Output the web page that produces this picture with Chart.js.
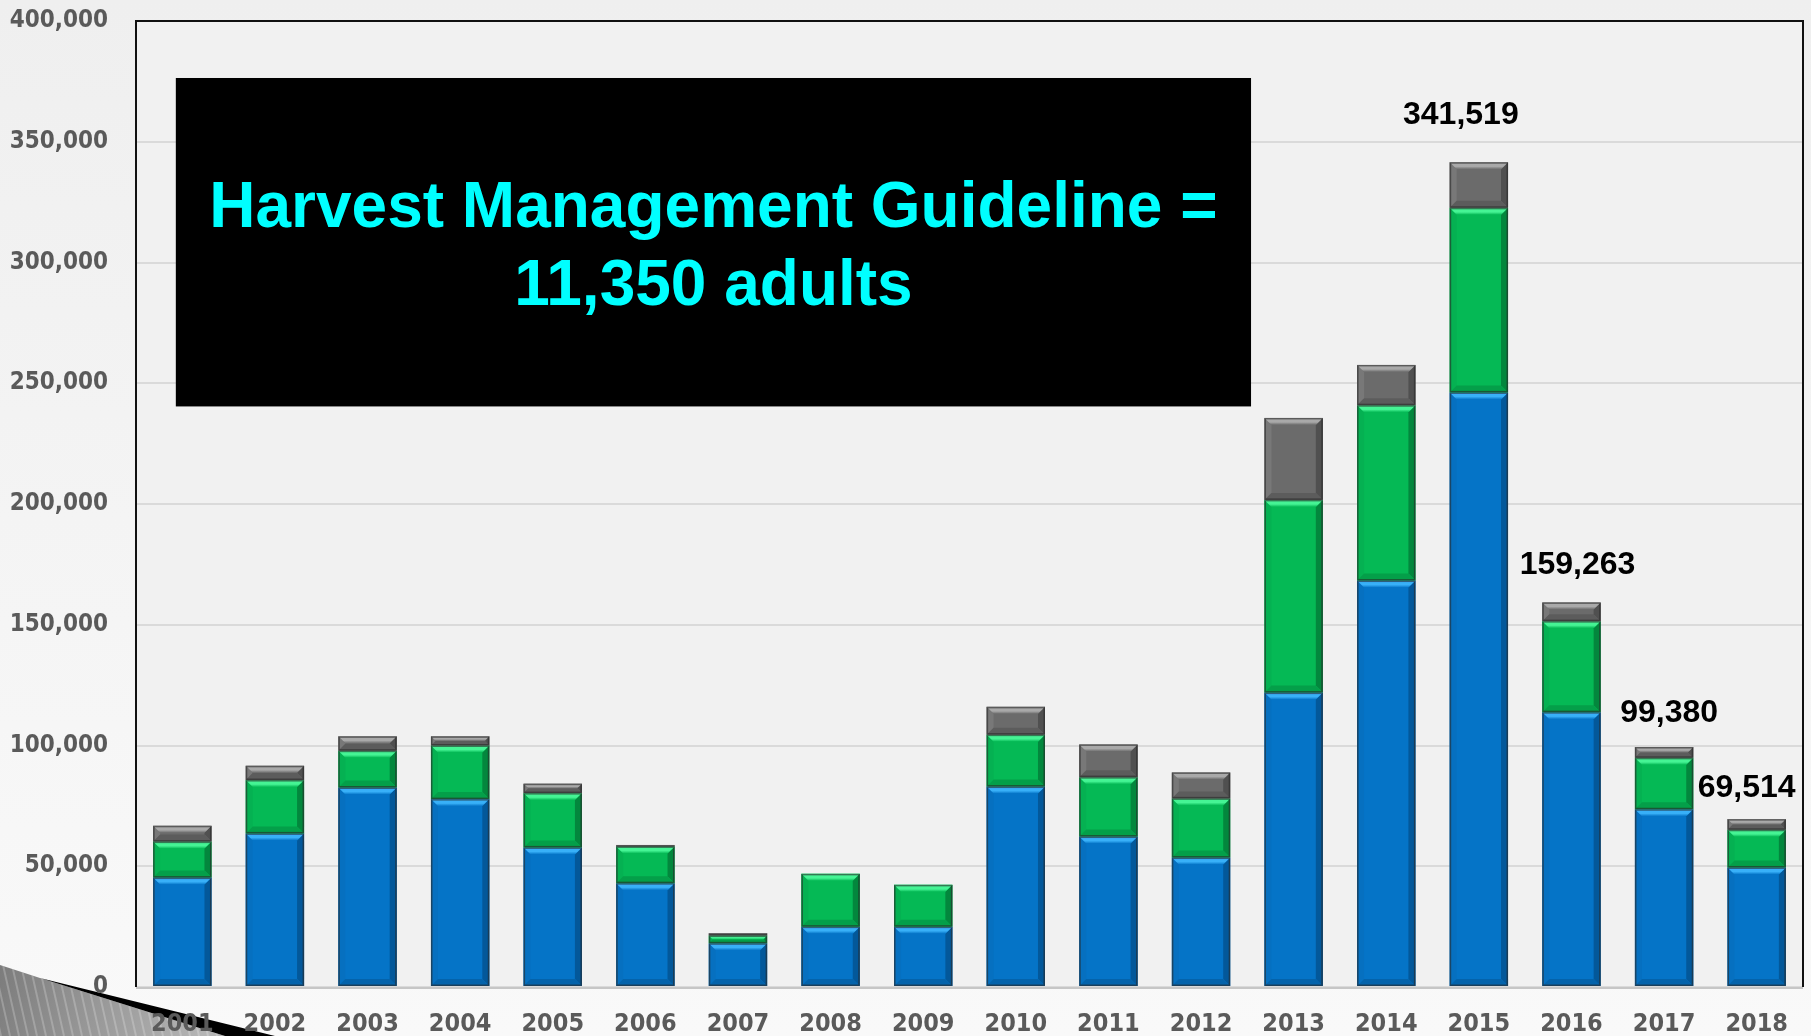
<!DOCTYPE html>
<html>
<head>
<meta charset="utf-8">
<script src="https://cdn.jsdelivr.net/npm/chart.js@4.4.1/dist/chart.umd.min.js"></script>
<style>
    html, body {
        margin: 0;
        padding: 0;
        width: 1811px;
        height: 1036px;
        overflow: hidden;
        background: linear-gradient(180deg, #efefef 0%, #f4f4f4 50%, #f9f9f9 100%);
    }
    #wrap {
        position: relative;
        width: 1811px;
        height: 1036px;
    }
</style>
</head>
<body>
<div id="wrap"><canvas id="harvest"></canvas></div>
<script>
// Years on the x axis
const years = ['2001', '2002', '2003', '2004', '2005', '2006', '2007', '2008', '2009',
    '2010', '2011', '2012', '2013', '2014', '2015', '2016', '2017', '2018'];

// Stacked series (bottom to top)
const blueValues = [45300, 63600, 82600, 77800, 57800, 43000, 18100, 25000, 25000,
    83000, 62300, 53600, 121900, 168300, 246200, 113800, 73600, 49500];
const greenValues = [14900, 22100, 15250, 22200, 22500, 15200, 3200, 21850, 17300,
    21500, 24600, 24500, 79800, 72600, 76450, 37700, 21300, 15600];
const grayValues = [6550, 5900, 5950, 3800, 3900, 500, 960, 0, 0,
    11500, 13550, 10750, 33950, 16700, 18869, 7763, 4480, 4414];

// Y axis ticks
const yTicks = [0, 50000, 100000, 150000, 200000, 250000, 300000, 350000, 400000];

// Years that get a total label
const labelledYears = ['2015', '2016', '2017', '2018'];

// Banner text
const bannerLines = ['Harvest Management Guideline =', '11,350 adults'];

// Label nudges in px (dx, dy from top of stack)
const labelNudge = [[-18, -47], [6, -37], [5, -34], [-10, -31]];

const palette = {
    blue:  { base: '#0574c7', top: '#38b0f8', right: '#03589a', bottom: '#0463ab', left: '#0670c0' },
    green: { base: '#05b955', top: '#45f494', right: '#03873d', bottom: '#049f49', left: '#05b152' },
    gray:  { base: '#6b6b6b', top: '#a9a9a9', right: '#505050', bottom: '#5c5c5c', left: '#787878' }
};
const shades = [palette.blue, palette.green, palette.gray];

const fmt = v => v.toLocaleString('en-US');

function poly(ctx, pts, fill) {
    ctx.beginPath();
    ctx.moveTo(pts[0][0], pts[0][1]);
    for (let i = 1; i < pts.length; i++) ctx.lineTo(pts[i][0], pts[i][1]);
    ctx.closePath();
    ctx.fillStyle = fill;
    ctx.fill();
}

// Corner decoration + plot background
const backdrop = {
    id: 'backdrop',
    beforeDraw(chart) {
        const ctx = chart.ctx;
        const H = chart.height;
        ctx.save();
        // striped grey wedge bottom-left
        const g = [[0, H - 71], [40, H - 58], [225, H], [0, H]];
        const grad = ctx.createLinearGradient(0, H - 70, 200, H);
        grad.addColorStop(0, '#7c7c7c');
        grad.addColorStop(1, '#b4b4b4');
        poly(ctx, g, grad);
        ctx.save();
        ctx.beginPath();
        ctx.moveTo(g[0][0], g[0][1]);
        g.slice(1).forEach(p => ctx.lineTo(p[0], p[1]));
        ctx.closePath();
        ctx.clip();
        ctx.strokeStyle = 'rgba(255,255,255,0.22)';
        ctx.lineWidth = 2;
        for (let sx = -80; sx < 260; sx += 9) {
            ctx.beginPath();
            ctx.moveTo(sx, H - 80);
            ctx.lineTo(sx + 18, H);
            ctx.stroke();
        }
        ctx.restore();
        poly(ctx, [[40, H - 58], [275, H], [225, H]], '#000');

        const a = chart.chartArea;
        ctx.fillStyle = '#f1f1f1';
        ctx.fillRect(a.left, a.top, a.right - a.left, a.bottom - a.top);
        ctx.restore();
    }
};

// Bevelled look on each stacked segment
const bevel = {
    id: 'bevel',
    afterDatasetsDraw(chart) {
        const ctx = chart.ctx;
        ctx.save();
        chart.data.datasets.forEach((ds, di) => {
            const c = shades[di];
            chart.getDatasetMeta(di).data.forEach(el => {
                const p = el.getProps(['x', 'y', 'base', 'width'], true);
                const l = p.x - p.width / 2, r = p.x + p.width / 2;
                const t = Math.min(p.y, p.base), bt = Math.max(p.y, p.base);
                const h = bt - t;
                if (h < 1) return;
                const b = Math.min(7, h / 2, p.width / 2);
                poly(ctx, [[l, t], [l + b, t + b], [l + b, bt - b], [l, bt]], c.left);
                poly(ctx, [[r, t], [r, bt], [r - b, bt - b], [r - b, t + b]], c.right);
                poly(ctx, [[l, bt], [r, bt], [r - b, bt - b], [l + b, bt - b]], c.bottom);
                const tg = ctx.createLinearGradient(0, t, 0, t + b);
                tg.addColorStop(0, c.top);
                tg.addColorStop(0.6, c.top);
                tg.addColorStop(1, c.base);
                poly(ctx, [[l, t], [r, t], [r - b, t + b], [l + b, t + b]], tg);
                ctx.strokeStyle = 'rgba(40,40,40,0.6)';
                ctx.lineWidth = 1.5;
                ctx.strokeRect(l + 0.75, t + 0.75, p.width - 1.5, h - 1.5);
            });
        });
        ctx.restore();
    }
};

// Frame, banner and total labels
const overlay = {
    id: 'overlay',
    afterDatasetsDraw(chart) {
        const ctx = chart.ctx;
        const a = chart.chartArea;
        const xs = chart.scales.x, ys = chart.scales.y;
        ctx.save();

        ctx.strokeStyle = '#c6c6c6';
        ctx.lineWidth = 2;
        ctx.beginPath();
        ctx.moveTo(a.left, a.bottom + 1);
        ctx.lineTo(a.right, a.bottom + 1);
        ctx.stroke();

        ctx.strokeStyle = '#111';
        ctx.lineWidth = 2;
        ctx.beginPath();
        ctx.moveTo(a.left, a.bottom);
        ctx.lineTo(a.left, a.top);
        ctx.lineTo(a.right, a.top);
        ctx.lineTo(a.right, a.bottom);
        ctx.stroke();

        // banner
        const bl = xs.getPixelForValue(-0.07), br = xs.getPixelForValue(11.54);
        const bt = ys.getPixelForValue(376400), bb = ys.getPixelForValue(240400);
        ctx.fillStyle = '#000';
        ctx.fillRect(bl, bt, br - bl, bb - bt);
        ctx.fillStyle = '#00ffff';
        ctx.font = 'bold 64px "Liberation Sans", Arial, sans-serif';
        ctx.textAlign = 'center';
        ctx.textBaseline = 'middle';
        const cx = (bl + br) / 2, bh = bb - bt;
        ctx.fillText(bannerLines[0], cx, bt + bh * 0.40);
        ctx.fillText(bannerLines[1], cx, bt + bh * 0.636);

        // totals
        ctx.fillStyle = '#000';
        ctx.font = 'bold 32px "Liberation Sans", Arial, sans-serif';
        labelledYears.forEach((yr, k) => {
            const i = years.indexOf(yr);
            const total = blueValues[i] + greenValues[i] + grayValues[i];
            const px = xs.getPixelForValue(i) + labelNudge[k][0];
            const py = ys.getPixelForValue(total) + labelNudge[k][1];
            ctx.fillText(fmt(total), px, py);
        });
        ctx.restore();
    }
};

const tickFontY = { family: "'DejaVu Sans Condensed', 'DejaVu Sans', sans-serif", size: 24, weight: 'bold' };
const tickFontX = { family: "'DejaVu Sans Condensed', 'Open Sans', sans-serif", size: 25, weight: 'bold' };

new Chart(document.getElementById('harvest'), {
    type: 'bar',
    data: {
        labels: years,
        datasets: [
            { label: 'blue', data: blueValues, backgroundColor: palette.blue.base, borderWidth: 0 },
            { label: 'green', data: greenValues, backgroundColor: palette.green.base, borderWidth: 0 },
            { label: 'gray', data: grayValues, backgroundColor: palette.gray.base, borderWidth: 0 }
        ]
    },
    options: {
        responsive: true,
        maintainAspectRatio: false,
        animation: false,
        layout: { padding: { top: 21, right: 8, left: 0, bottom: 0 } },
        datasets: { bar: { barPercentage: 0.63, categoryPercentage: 1.0 } },
        plugins: {
            legend: { display: false },
            tooltip: { enabled: false }
        },
        scales: {
            x: {
                stacked: true,
                grid: { display: false, drawTicks: false },
                border: { display: false },
                ticks: { color: '#5a5a5a', font: tickFontX, padding: 22, maxRotation: 0 },
                afterFit(axis) { axis.height = 49; }
            },
            y: {
                stacked: true,
                min: yTicks[0],
                max: yTicks[yTicks.length - 1],
                grid: { color: '#dadada', lineWidth: 2, drawTicks: false },
                border: { display: false },
                afterBuildTicks(axis) { axis.ticks = yTicks.map(v => ({ value: v })); },
                ticks: { color: '#5a5a5a', font: tickFontY, padding: 28, callback: v => fmt(v) },
                afterFit(axis) {
                    axis.width = 136;
                    axis.paddingTop = 0;
                    axis.paddingBottom = 0;
                }
            }
        }
    },
    plugins: [backdrop, bevel, overlay]
});
</script>
</body>
</html>
